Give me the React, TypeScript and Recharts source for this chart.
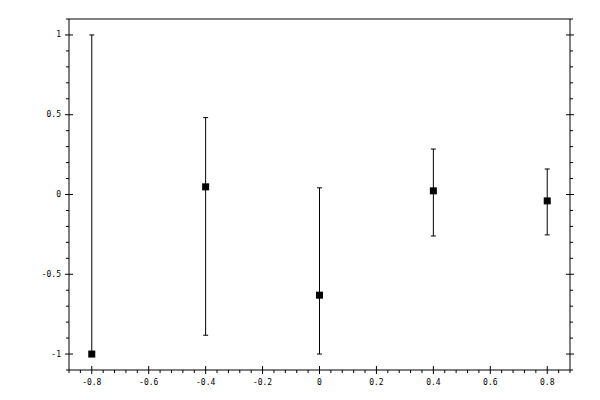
import React from 'react';
import { ScatterChart, Scatter, XAxis, YAxis, ErrorBar } from 'recharts';

// Data
const xValues = [-0.8, -0.4, 0, 0.4, 0.8];
const yValues = [-1.0, 0.048, -0.631, 0.023, -0.04];
const upperValues = [1.0, 0.482, 0.042, 0.285, 0.16];
const lowerValues = [-1.0, -0.882, -1.0, -0.26, -0.253];

// Axis ticks
const xMajorTicks = [-0.8, -0.6, -0.4, -0.2, 0, 0.2, 0.4, 0.6, 0.8];
const yMajorTicks = [-1, -0.5, 0, 0.5, 1];
const xDomain = [-0.88, 0.88];
const yDomain = [-1.1, 1.1];
const xMinorStep = 0.04;
const yMinorStep = 0.1;

const buildTicks = (lo: number, hi: number, step: number) => {
  const out: number[] = [];
  const n = Math.round((hi - lo) / step);
  for (let i = 0; i <= n; i++) out.push(Math.round((lo + i * step) * 1000) / 1000);
  return out;
};

const xAllTicks = buildTicks(xDomain[0], xDomain[1], xMinorStep);
const yAllTicks = buildTicks(yDomain[0], yDomain[1], yMinorStep);

const data = xValues.map((x, i) => ({
  x,
  y: yValues[i],
  err: [yValues[i] - lowerValues[i], upperValues[i] - yValues[i]],
}));

const isMajor = (v: number, majors: number[]) => majors.some((m) => Math.abs(m - v) < 1e-6);

const FONT = '"DejaVu Sans Mono", monospace';

const BottomTick = (props: any) => {
  const { x, y, payload } = props;
  const v = payload.value;
  const major = isMajor(v, xMajorTicks);
  return (
    <g>
      {major ? (
        <>
          <line x1={x} x2={x} y1={y - 4} y2={y + 4} stroke="#000" strokeWidth={1} />
          <text x={x} y={y + 12} textAnchor="middle" dominantBaseline="middle" fontFamily={FONT} fontSize={8} fill="#000">
            {String(v)}
          </text>
        </>
      ) : (
        <line x1={x} x2={x} y1={y} y2={y + 3} stroke="#000" strokeWidth={1} />
      )}
    </g>
  );
};

const TopTick = (props: any) => {
  const { x, y, payload } = props;
  const major = isMajor(payload.value, xMajorTicks);
  return major ? (
    <line x1={x} x2={x} y1={y - 4} y2={y + 4} stroke="#000" strokeWidth={1} />
  ) : (
    <line x1={x} x2={x} y1={y - 3} y2={y} stroke="#000" strokeWidth={1} />
  );
};

const LeftTick = (props: any) => {
  const { x, y, payload } = props;
  const v = payload.value;
  const major = isMajor(v, yMajorTicks);
  return (
    <g>
      {major ? (
        <>
          <line x1={x - 4} x2={x + 4} y1={y} y2={y} stroke="#000" strokeWidth={1} />
          <text x={x - 8} y={y} textAnchor="end" dominantBaseline="middle" fontFamily={FONT} fontSize={8} fill="#000">
            {String(v)}
          </text>
        </>
      ) : (
        <line x1={x - 3} x2={x} y1={y} y2={y} stroke="#000" strokeWidth={1} />
      )}
    </g>
  );
};

const RightTick = (props: any) => {
  const { x, y, payload } = props;
  const major = isMajor(payload.value, yMajorTicks);
  return major ? (
    <line x1={x - 4} x2={x + 4} y1={y} y2={y} stroke="#000" strokeWidth={1} />
  ) : (
    <line x1={x} x2={x + 3} y1={y} y2={y} stroke="#000" strokeWidth={1} />
  );
};

const SquareMarker = (props: any) => {
  const { cx, cy } = props;
  return <rect x={cx - 3.5} y={cy - 3.5} width={7} height={7} fill="#000" />;
};

export default function App() {
  return (
    <div style={{ position: 'absolute', left: 0, top: 0, width: 600, height: 400, background: '#fff' }}>
      <ScatterChart width={600} height={400} margin={{ top: 0, right: 0, bottom: 0, left: 0 }}>
        <XAxis
          xAxisId="bottom"
          dataKey="x"
          type="number"
          orientation="bottom"
          domain={xDomain}
          allowDataOverflow
          ticks={xAllTicks}
          interval={0}
          height={30}
          tickSize={0}
          tickMargin={0}
          tickLine={false}
          axisLine={{ stroke: '#000', strokeWidth: 1 }}
          tick={BottomTick}
        />
        <XAxis
          xAxisId="top"
          type="number"
          orientation="top"
          domain={xDomain}
          allowDataOverflow
          ticks={xAllTicks}
          interval={0}
          height={19}
          tickSize={0}
          tickMargin={0}
          tickLine={false}
          axisLine={{ stroke: '#000', strokeWidth: 1 }}
          tick={TopTick}
        />
        <YAxis
          yAxisId="left"
          dataKey="y"
          type="number"
          orientation="left"
          domain={yDomain}
          allowDataOverflow
          ticks={yAllTicks}
          interval={0}
          width={69}
          tickSize={0}
          tickMargin={0}
          tickLine={false}
          axisLine={{ stroke: '#000', strokeWidth: 1 }}
          tick={LeftTick}
        />
        <YAxis
          yAxisId="right"
          type="number"
          orientation="right"
          domain={yDomain}
          allowDataOverflow
          ticks={yAllTicks}
          interval={0}
          width={30}
          tickSize={0}
          tickMargin={0}
          tickLine={false}
          axisLine={{ stroke: '#000', strokeWidth: 1 }}
          tick={RightTick}
        />
        <Scatter
          data={data}
          xAxisId="bottom"
          yAxisId="left"
          fill="#000"
          shape={SquareMarker}
          isAnimationActive={false}
        >
          <ErrorBar dataKey="err" direction="y" width={2.5} stroke="#000" strokeWidth={1} isAnimationActive={false} />
        </Scatter>
      </ScatterChart>
    </div>
  );
}
